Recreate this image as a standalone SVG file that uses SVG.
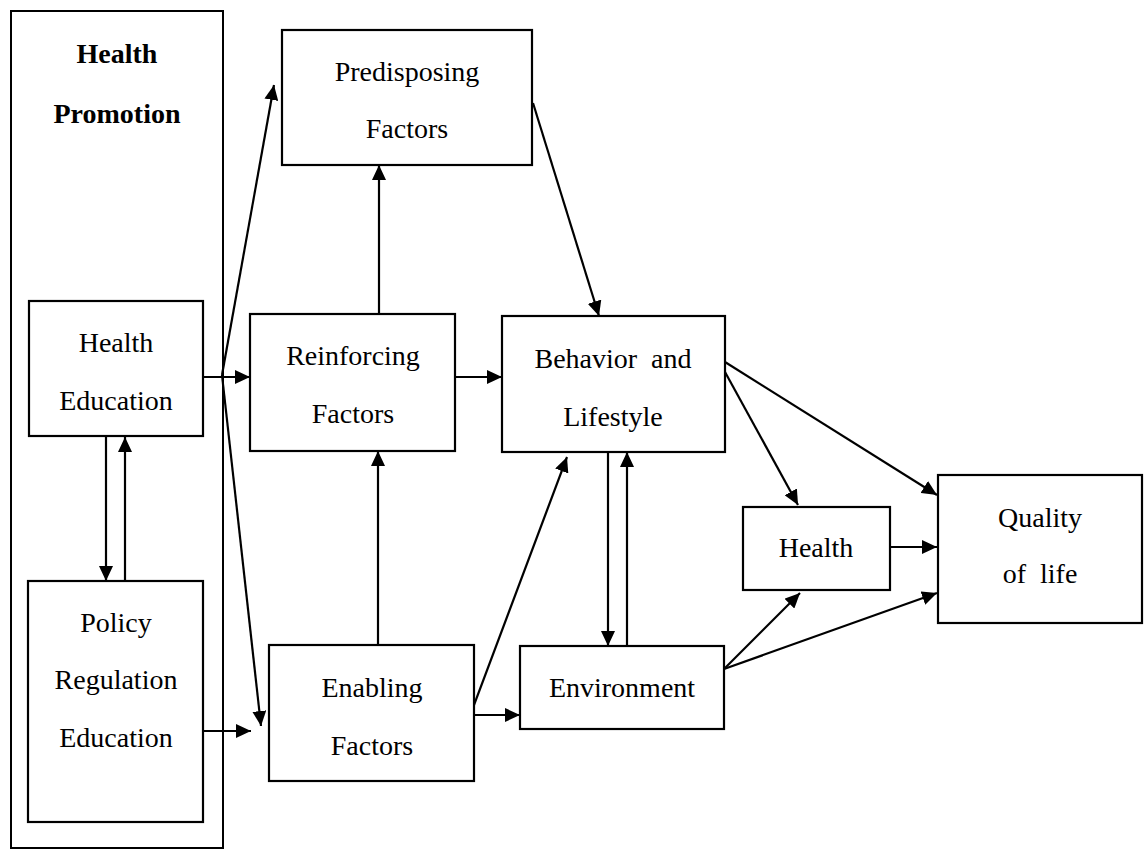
<svg xmlns="http://www.w3.org/2000/svg" width="1145" height="851" viewBox="0 0 1145 851">
<style>
.box{fill:#fff;stroke:#000;stroke-width:2.2}
.outer{fill:none;stroke:#000;stroke-width:2}
.t{font-family:"Liberation Serif","Times New Roman",serif;font-size:28px;fill:#000;text-anchor:middle}
.b{font-weight:bold}
.c line{stroke:#000;stroke-width:2.2;marker-end:url(#ah)}
.c line.n{marker-end:none}
</style>
<defs>
<marker id="ah" markerUnits="userSpaceOnUse" markerWidth="16" markerHeight="14" refX="15" refY="7" orient="auto">
<path d="M0,0 L15,7 L0,14 z" fill="#000"/>
</marker>
</defs>
<rect width="1145" height="851" fill="#fff"/>
<g id="health-promotion">
<rect class="outer" x="11" y="11" width="212" height="837"/>
<text class="t b" x="117" y="63">Health</text>
<text class="t b" x="117" y="123">Promotion</text>
</g>
<g id="health-education">
<rect class="box" x="29" y="301" width="174" height="135"/>
<text class="t" x="116" y="352">Health</text>
<text class="t" x="116" y="410">Education</text>
</g>
<g id="policy">
<rect class="box" x="28" y="581" width="175" height="241"/>
<text class="t" x="116" y="632">Policy</text>
<text class="t" x="116" y="689">Regulation</text>
<text class="t" x="116" y="747">Education</text>
</g>
<g id="predisposing">
<rect class="box" x="282" y="30" width="250" height="135"/>
<text class="t" x="407" y="81">Predisposing</text>
<text class="t" x="407" y="138">Factors</text>
</g>
<g id="reinforcing">
<rect class="box" x="250" y="314" width="205" height="137"/>
<text class="t" x="353" y="365">Reinforcing</text>
<text class="t" x="353" y="423">Factors</text>
</g>
<g id="enabling">
<rect class="box" x="269" y="645" width="205" height="136"/>
<text class="t" x="372" y="697">Enabling</text>
<text class="t" x="372" y="755">Factors</text>
</g>
<g id="behavior">
<rect class="box" x="502" y="316" width="223" height="136"/>
<text class="t" x="613" y="368" style="white-space:pre">Behavior  and</text>
<text class="t" x="613" y="426">Lifestyle</text>
</g>
<g id="environment">
<rect class="box" x="520" y="646" width="204" height="83"/>
<text class="t" x="622" y="697">Environment</text>
</g>
<g id="health">
<rect class="box" x="743" y="507" width="147" height="83"/>
<text class="t" x="816" y="557">Health</text>
</g>
<g id="quality">
<rect class="box" x="938" y="475" width="204" height="148"/>
<text class="t" x="1040" y="527">Quality</text>
<text class="t" x="1040" y="583" style="white-space:pre">of  life</text>
</g>
<g id="connectors" class="c">
<line x1="106" y1="436" x2="106" y2="581"/>
<line x1="125" y1="581" x2="125" y2="437"/>
<line x1="203" y1="377" x2="250" y2="377"/>
<line x1="222" y1="375" x2="274" y2="85"/>
<line x1="222" y1="375" x2="261" y2="726"/>
<line x1="203" y1="731" x2="251" y2="731"/>
<line x1="379" y1="314" x2="379" y2="165"/>
<line x1="378" y1="645" x2="378" y2="451"/>
<line x1="455" y1="377" x2="502" y2="377"/>
<line x1="474" y1="715" x2="520" y2="715"/>
<line x1="474" y1="705" x2="567" y2="457"/>
<line x1="533" y1="103" x2="599" y2="316"/>
<line x1="608" y1="452" x2="608" y2="646"/>
<line x1="627" y1="646" x2="627" y2="452"/>
<line x1="725" y1="372" x2="798" y2="505"/>
<line x1="725" y1="362" x2="937" y2="495"/>
<line x1="890" y1="547" x2="937" y2="547"/>
<line x1="724" y1="669" x2="800" y2="593"/>
<line x1="724" y1="669" x2="937" y2="593"/>
</g>
</svg>
